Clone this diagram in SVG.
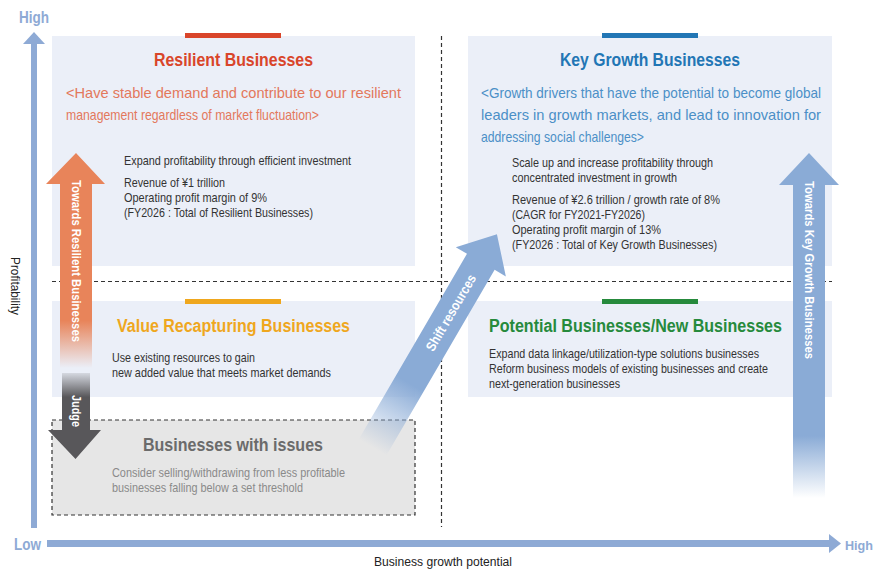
<svg xmlns="http://www.w3.org/2000/svg" width="876" height="570" viewBox="0 0 876 570">
<style>
text{font-family:"Liberation Sans",Arial,sans-serif}
.box{fill:#ebeff8}
.ttl{font-size:18px;font-weight:bold;text-anchor:middle}
.sub{font-size:14.5px}
.body{font-size:13px;fill:#333}
.ax{font-size:16px;font-weight:bold;fill:#8eaad5}
.lbl{font-size:12.5px;fill:#222}
.arr{font-size:13.5px;font-weight:bold;fill:#fff;text-anchor:middle;dominant-baseline:central}
.dash{stroke:#333;stroke-width:1.2;stroke-dasharray:4 3;fill:none}
.gry{fill:#8a8a8a}
</style>
<defs>
<linearGradient id="gOr" x1="0" y1="153" x2="0" y2="368" gradientUnits="userSpaceOnUse">
<stop offset="0.78" stop-color="#e8845a"/><stop offset="1" stop-color="#e8845a" stop-opacity="0"/>
</linearGradient>
<linearGradient id="gGr" x1="0" y1="373" x2="0" y2="459" gradientUnits="userSpaceOnUse">
<stop offset="0" stop-color="#58575a" stop-opacity="0.15"/><stop offset="0.28" stop-color="#58575a"/><stop offset="1" stop-color="#58575a"/>
</linearGradient>
<linearGradient id="gBl" x1="0" y1="153" x2="0" y2="498" gradientUnits="userSpaceOnUse">
<stop offset="0.82" stop-color="#8aabd6"/><stop offset="1" stop-color="#8aabd6" stop-opacity="0"/>
</linearGradient>
<linearGradient id="gSh" x1="0" y1="0" x2="247" y2="0" gradientUnits="userSpaceOnUse">
<stop offset="0" stop-color="#8aabd6" stop-opacity="0"/><stop offset="0.3" stop-color="#8aabd6"/><stop offset="1" stop-color="#8aabd6"/>
</linearGradient>
</defs>

<g id="axes">
<rect x="31" y="42" width="6" height="486" fill="#8eaad5"/>
<polygon points="34,32 45,44 23,44" fill="#8eaad5"/>
<text class="ax" x="19" y="23" textLength="30" lengthAdjust="spacingAndGlyphs">High</text>
<rect x="47" y="540" width="785" height="7" fill="#8eaad5"/>
<polygon points="841,543.5 829,534 829,553" fill="#8eaad5"/>
<text class="ax" x="14" y="550" textLength="27" lengthAdjust="spacingAndGlyphs">Low</text>
<text class="ax" x="845" y="550" style="font-size:13.5px" textLength="28" lengthAdjust="spacingAndGlyphs">High</text>
<text class="lbl" x="374" y="566" textLength="138" lengthAdjust="spacingAndGlyphs">Business growth potential</text>
<text class="lbl" transform="translate(11,286) rotate(90)" text-anchor="middle" textLength="58" lengthAdjust="spacingAndGlyphs">Profitability</text>
</g>

<g id="grid">
<line class="dash" x1="52" y1="281.5" x2="832" y2="281.5"/>
<line class="dash" x1="441.5" y1="36" x2="441.5" y2="527"/>
</g>

<g id="resilient">
<rect class="box" x="52" y="36" width="363" height="230"/>
<rect x="185" y="33" width="96" height="5" fill="#d9452a"/>
<text class="ttl" x="233.5" y="66" fill="#d9452a" textLength="159" lengthAdjust="spacingAndGlyphs">Resilient Businesses</text>
<text class="sub" x="66" y="98" fill="#e3785c" textLength="335" lengthAdjust="spacingAndGlyphs">&lt;Have stable demand and contribute to our resilient</text>
<text class="sub" x="66" y="120" fill="#e3785c" textLength="253" lengthAdjust="spacingAndGlyphs">management regardless of market fluctuation&gt;</text>
<text class="body" x="124" y="165" textLength="227" lengthAdjust="spacingAndGlyphs">Expand profitability through efficient investment</text>
<text class="body" x="124" y="187" textLength="101" lengthAdjust="spacingAndGlyphs">Revenue of ¥1 trillion</text>
<text class="body" x="124" y="202" textLength="143" lengthAdjust="spacingAndGlyphs">Operating profit margin of 9%</text>
<text class="body" x="124" y="217" textLength="189" lengthAdjust="spacingAndGlyphs">(FY2026 : Total of Resilient Businesses)</text>
</g>

<g id="keygrowth">
<rect class="box" x="468" y="36" width="364" height="230"/>
<rect x="602" y="33" width="96" height="5" fill="#2276b5"/>
<text class="ttl" x="650" y="66" fill="#2276b5" textLength="180" lengthAdjust="spacingAndGlyphs">Key Growth Businesses</text>
<text class="sub" x="481" y="98" fill="#4b8fc7" textLength="340" lengthAdjust="spacingAndGlyphs">&lt;Growth drivers that have the potential to become global</text>
<text class="sub" x="481" y="120" fill="#4b8fc7" textLength="340" lengthAdjust="spacingAndGlyphs">leaders in growth markets, and lead to innovation for</text>
<text class="sub" x="481" y="142" fill="#4b8fc7" textLength="163" lengthAdjust="spacingAndGlyphs">addressing social challenges&gt;</text>
<text class="body" x="512" y="167" textLength="201" lengthAdjust="spacingAndGlyphs">Scale up and increase profitability through</text>
<text class="body" x="512" y="182" textLength="165" lengthAdjust="spacingAndGlyphs">concentrated investment in growth</text>
<text class="body" x="512" y="204" textLength="208" lengthAdjust="spacingAndGlyphs">Revenue of ¥2.6 trillion / growth rate of 8%</text>
<text class="body" x="512" y="219" textLength="133" lengthAdjust="spacingAndGlyphs">(CAGR for FY2021-FY2026)</text>
<text class="body" x="512" y="234" textLength="149" lengthAdjust="spacingAndGlyphs">Operating profit margin of 13%</text>
<text class="body" x="512" y="249" textLength="205" lengthAdjust="spacingAndGlyphs">(FY2026 : Total of Key Growth Businesses)</text>
</g>

<g id="valuerecapturing">
<rect class="box" x="52" y="301" width="363" height="96"/>
<rect x="185" y="299" width="96" height="5" fill="#efa71e"/>
<text class="ttl" x="233.5" y="332" fill="#efa71e" textLength="233" lengthAdjust="spacingAndGlyphs">Value Recapturing Businesses</text>
<text class="body" x="112" y="362" textLength="143" lengthAdjust="spacingAndGlyphs">Use existing resources to gain</text>
<text class="body" x="112" y="377" textLength="219" lengthAdjust="spacingAndGlyphs">new added value that meets market demands</text>
</g>

<g id="potential">
<rect class="box" x="468" y="301" width="364" height="96"/>
<rect x="602" y="299" width="96" height="5" fill="#268a3c"/>
<text class="ttl" x="635.5" y="332" fill="#268a3c" textLength="293" lengthAdjust="spacingAndGlyphs">Potential Businesses/New Businesses</text>
<text class="body" x="489" y="358" textLength="270" lengthAdjust="spacingAndGlyphs">Expand data linkage/utilization-type solutions businesses</text>
<text class="body" x="489" y="373" textLength="279" lengthAdjust="spacingAndGlyphs">Reform business models of existing businesses and create</text>
<text class="body" x="489" y="388" textLength="131" lengthAdjust="spacingAndGlyphs">next-generation businesses</text>
</g>

<g id="issues">
<rect x="52" y="420" width="363" height="95" fill="#e6e6e6" stroke="#333" stroke-width="1.2" stroke-dasharray="4 3"/>
<text class="ttl" x="233" y="451" fill="#6b6b6b" textLength="180" lengthAdjust="spacingAndGlyphs">Businesses with issues</text>
<text class="body gry" x="112" y="477" textLength="233" lengthAdjust="spacingAndGlyphs">Consider selling/withdrawing from less profitable</text>
<text class="body gry" x="112" y="492" textLength="191" lengthAdjust="spacingAndGlyphs">businesses falling below a set threshold</text>
</g>

<g id="connectors">
<g id="towards-resilient">
<polygon points="76,153 105,184 92,184 92,368 60,368 60,184 46,184" fill="url(#gOr)"/>
<text class="arr" transform="translate(76,261) rotate(90)" textLength="162" lengthAdjust="spacingAndGlyphs">Towards Resilient Businesses</text>
</g>
<g id="judge">
<polygon points="62,373 90,373 90,430 101,430 75.5,459 48,430 62,430" fill="url(#gGr)"/>
<text class="arr" transform="translate(76,411) rotate(90)" textLength="32" lengthAdjust="spacingAndGlyphs">Judge</text>
</g>
<g id="towards-keygrowth">
<polygon points="809,153 839,185 825,185 825,498 793,498 793,185 779,185" fill="url(#gBl)"/>
<text class="arr" transform="translate(809,270) rotate(90)" textLength="178" lengthAdjust="spacingAndGlyphs">Towards Key Growth Businesses</text>
</g>
<g id="shift-resources" transform="translate(372.5,447.5) rotate(-59.75)">
<polygon points="0,-16 215,-16 215,-29 247,0 215,29 215,16 0,16" fill="url(#gSh)"/>
<text class="arr" x="156" y="0" textLength="86" lengthAdjust="spacingAndGlyphs">Shift resources</text>
</g>
</g>
</svg>
